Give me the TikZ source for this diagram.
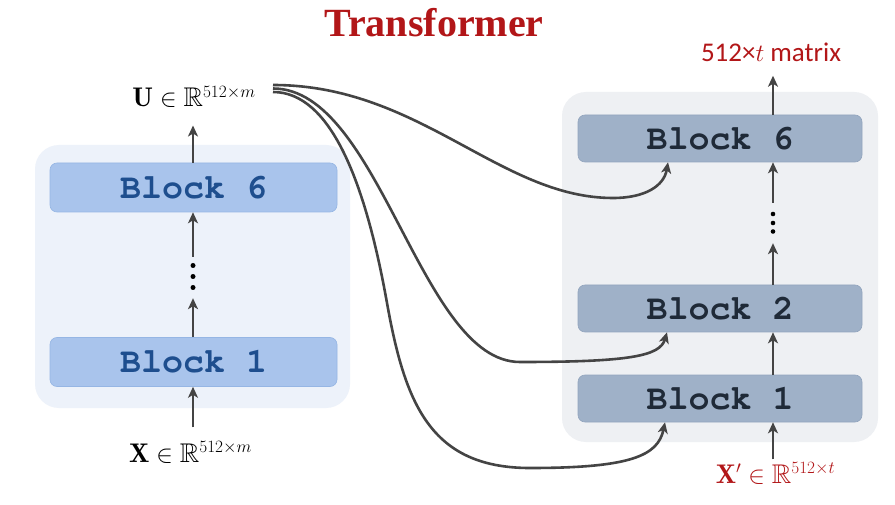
\documentclass[tikz,border=0pt]{standalone}
\usepackage{amssymb}
\usepackage[T1]{fontenc}
\usepackage{fontspec}
\newfontfamily\titlefont{Liberation Serif}
\newfontfamily\labelfont{Carlito}
\newcommand{\courierbold}{\fontencoding{T1}\fontfamily{pcr}\fontseries{b}\fontshape{n}}
\newcommand{\dimsup}[1]{^{\mbox{\fontsize{19}{20}\selectfont$512{\times}#1$}}}
\usetikzlibrary{arrows.meta, shapes}

\definecolor{darkred}{RGB}{178,22,24}
\definecolor{arrowgray}{RGB}{68,68,68}
\definecolor{leftbg}{RGB}{237,242,250}
\definecolor{rightbg}{RGB}{238,240,243}
\definecolor{leftfill}{RGB}{169,196,236}
\definecolor{leftline}{RGB}{150,182,228}
\definecolor{lefttext}{RGB}{30,78,142}
\definecolor{rightfill}{RGB}{159,177,200}
\definecolor{rightline}{RGB}{146,165,190}
\definecolor{righttext}{RGB}{31,42,56}

\begin{document}
\begin{tikzpicture}[x=1pt, y=-1pt,
  arr/.style={-{Stealth[length=11pt,width=10pt,inset=3pt]}, line width=2.6pt, draw=arrowgray},
  panel/.style={rounded corners=24pt, inner sep=0pt},
  lblock/.style={rounded corners=7pt, fill=leftfill, draw=leftline, line width=0.6pt,
    minimum width=287pt, minimum height=49pt, inner sep=0pt, text=lefttext,
    font=\courierbold\fontsize{35}{35}\selectfont},
  rblock/.style={rounded corners=7pt, fill=rightfill, draw=rightline, line width=0.6pt,
    minimum width=284pt, minimum height=47pt, inner sep=0pt, text=righttext,
    font=\courierbold\fontsize{35}{35}\selectfont},
  mathlab/.style={anchor=base, font=\fontsize{27}{30}\selectfont},
  dotcol/.style={inner sep=0pt, minimum width=6pt}]
\useasboundingbox[fill=white] (0,0) rectangle (895,505);

% title
\node[anchor=base, text=darkred, font=\titlefont\bfseries\fontsize{40}{40}\selectfont] (title) at (434,37) {Transformer};

% encoder (left)
\node[panel, fill=leftbg, minimum width=315pt, minimum height=263pt] (lpanel) at (192.5,276.5) {};
\node[lblock] (lb6) at (193.5,187.5) {Block 6};
\node[lblock] (lb1) at (193.5,362) {Block 1};
\node[dotcol, minimum height=41pt] (ldots) at (193,277.5) {};
\foreach \dy in {-12,-1,10} \fill (ldots.center) ++(0,\dy) circle (2.5pt);

\node[mathlab] (ulab) at (194,107) {$\mathbf{U}\in\mathbb{R}\dimsup{m}$};
\node[mathlab] (xlab) at (190.5,462) {$\mathbf{X}\in\mathbb{R}\dimsup{m}$};

% decoder (right)
\node[panel, fill=rightbg, minimum width=316pt, minimum height=350pt] (rpanel) at (720,267) {};
\node[rblock] (rb6) at (720,138.5) {Block 6};
\node[rblock] (rb2) at (720,308.5) {Block 2};
\node[rblock] (rb1) at (720,398.5) {Block 1};
\node[dotcol, minimum height=40pt] (rdots) at (773,223) {};
\foreach \dy in {-9,0,8.5} \fill (rdots.center) ++(0,\dy) circle (2.3pt);

\node[anchor=base, text=darkred, font=\labelfont\fontsize{27}{30}\selectfont] (outlab) at (771,62) {512×$t$ matrix};
\node[mathlab, text=darkred] (xplab) at (775.5,483) {$\mathbf{X}'\in\mathbb{R}\dimsup{t}$};

% vertical arrows
\draw[arr, shorten <=11pt] (xlab.north -| ldots) -- (lb1.south -| ldots);
\draw[arr] (lb1.north -| ldots) -- (ldots.south);
\draw[arr] (ldots.north) -- (lb6.south -| ldots);
\draw[arr, shorten >=14pt] (lb6.north -| ldots) -- (ulab.south -| ldots);

\draw[arr] (xplab.north -| rdots) -- (rb1.south -| rdots);
\draw[arr] (rb1.north -| rdots) -- (rb2.south -| rdots);
\draw[arr] (rb2.north -| rdots) -- (rdots.south);
\draw[arr] (rdots.north) -- (rb6.south -| rdots);
\draw[arr, shorten >=10pt] (rb6.north -| rdots) -- (outlab.south -| rdots);

% encoder output to decoder blocks
\coordinate (u1) at (273,85);
\coordinate (u2) at (273,88.5);
\coordinate (u3) at (273,92);
\draw[arr] (u1) .. controls (420,85) and (500,198) .. (613,198)
  .. controls (645,198) and (664,186) .. ([xshift=-52pt]rb6.south);
\draw[arr] (u2) .. controls (380,88.5) and (420,362) .. (520,362)
  .. controls (630,362) and (660,356) .. ([xshift=-53pt]rb2.south);
\draw[arr] (u3) .. controls (330,92) and (365,180) .. (387,303)
  .. controls (405,403) and (430,468) .. (530,468)
  .. controls (630,468) and (658,456) .. ([xshift=-55pt]rb1.south);
\end{tikzpicture}
\end{document}
